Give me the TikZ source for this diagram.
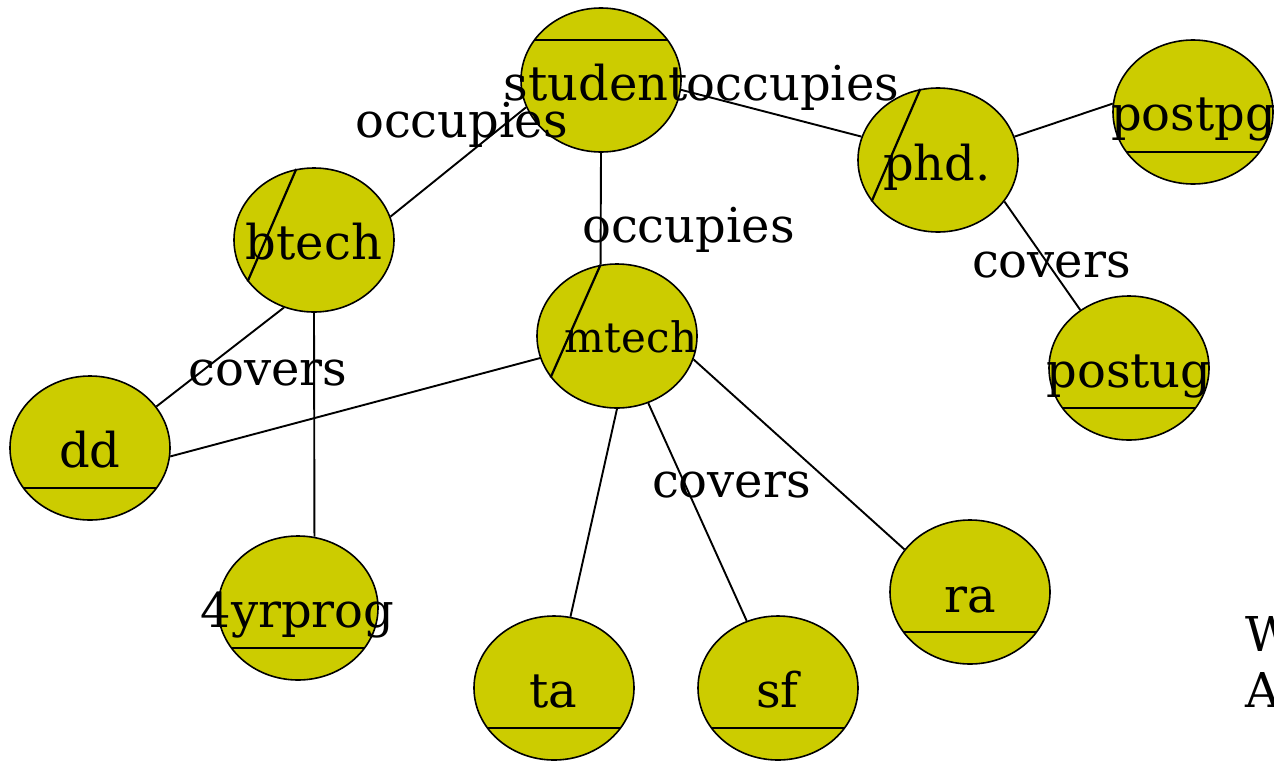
\documentclass[tikz,border=0pt]{standalone}
\usepackage{fontspec}
\setmainfont{DejaVu Serif}
\usetikzlibrary{shapes.geometric}
\tikzset{
  entity/.style={ellipse, draw=black, line width=1.6pt, fill=entfill,
    minimum width=160pt, minimum height=144pt, inner sep=0pt},
  link/.style={draw=black, line width=1.9pt},
  keyline/.style={draw=black, line width=2.2pt},
  txt/.style={inner sep=0pt, anchor=base, font=\fontsize{48}{57}\selectfont},
  smalltxt/.style={txt, font=\fontsize{42}{50}\selectfont},
  note/.style={txt, anchor=base west}
}
\definecolor{entfill}{RGB}{204,204,0}
\begin{document}
\begin{tikzpicture}[x=1pt,y=-1pt]
\useasboundingbox (0,0) rectangle (1274,761);
\clip (0,0) rectangle (1274,761);

% entity ellipses
\node[entity] (student) at (601,80) {};
\node[entity] (phd) at (938,160) {};
\node[entity] (postpg) at (1193,112) {};
\node[entity] (btech) at (314,240) {};
\node[entity] (mtech) at (617,336) {};
\node[entity] (postug) at (1129,368) {};
\node[entity] (dd) at (90,448) {};
\node[entity] (fouryr) at (298,608) {};
\node[entity] (ta) at (554,688) {};
\node[entity] (sf) at (778,688) {};
\node[entity] (ra) at (970,592) {};

% key / partial-key markings
\draw[keyline] (student.149) -- (student.31);
\draw[keyline] (phd.104) -- (phd.212);
\draw[keyline] (btech.104) -- (btech.212);
\draw[keyline] (mtech.103) -- (mtech.212);
\foreach \n in {postpg,postug,dd,fouryr,ta,sf,ra}
  \draw[keyline] (\n.211) -- (\n.329);

% relationships
\draw[link] (btech.17) -- (student.200);
\draw[link] (student.south) -- (mtech.103);
\draw[link] (student.353) -- (phd.163);
\draw[link] (phd.17) -- (postpg.174);
\draw[link] (phd.328) -- (postug.130);
\draw[link] (btech.246) -- (dd.32);
\draw[link] (btech.south) -- (fouryr.77);
\draw[link] (mtech.196) -- (dd.354);
\draw[link] (mtech.south) -- (ta.77);
\draw[link] (mtech.295) -- (sf.115);
\draw[link] (mtech.343) -- (ra.147);

% entity names
\node[txt] (tstudent) at (596,100) {student};
\node[txt] (tphd) at (937,180) {phd.};
\node[txt] (tpostpg) at (1193.5,130) {postpg};
\node[txt] (tbtech) at (314,259) {btech};
\node[smalltxt] (tmtech) at (631,352) {mtech};
\node[txt] (tpostug) at (1129,387) {postug};
\node[txt] (tdd) at (90,467) {dd};
\node[txt] (tfouryr) at (297.5,627) {4yrprog};
\node[txt] (tta) at (553.5,707) {ta};
\node[txt] (tsf) at (777.5,707) {sf};
\node[txt] (tra) at (970,612) {ra};

% relationship names
\node[txt] (occ1) at (793,100) {occupies};
\node[txt] (occ2) at (461.5,137) {occupies};
\node[txt] (occ3) at (688.5,242) {occupies};
\node[txt] (cov1) at (1051.5,277) {covers};
\node[txt] (cov2) at (268,385) {covers};
\node[txt] (cov3) at (731.5,497) {covers};

% side note
\node[note] (noteW) at (1245,651) {W};
\node[note] (noteA) at (1245,707) {A};
\end{tikzpicture}
\end{document}
